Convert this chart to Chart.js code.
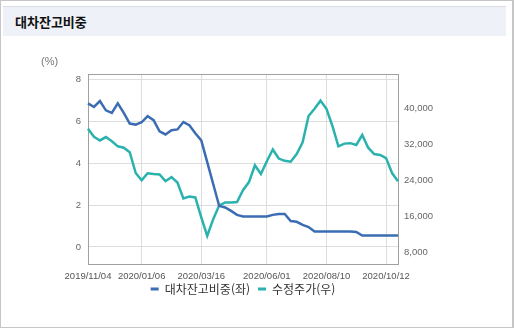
<!DOCTYPE html>
<html lang="ko">
<head>
<meta charset="utf-8">
<title>대차잔고비중</title>
<script src="https://cdn.jsdelivr.net/npm/chart.js@4.4.1/dist/chart.umd.min.js"></script>
<style>
  html, body { margin: 0; padding: 0; background: #fff; }
  body { position: relative; width: 514px; height: 328px; overflow: hidden; }
  .frame { position: absolute; left: 0; top: 0; width: 514px; height: 328px; box-sizing: border-box; border: 1px solid #c6c6c6; border-right-width: 2px; }
  .header { position: absolute; left: 3px; top: 6px; width: 503px; height: 30px; background: #eef1f7; border-top: 1px solid #dadde3; box-sizing: border-box; }
  .header h2 { margin: 0; padding-left: 12px; font: bold 13px "Noto Sans CJK KR", sans-serif; color: #111; line-height: 29px; }
  #chart { position: absolute; left: 0; top: 40px; }
</style>
</head>
<body>
<div class="frame"></div>
<div class="header"><h2>대차잔고비중</h2></div>
<canvas id="chart" width="514" height="288"></canvas>
<script>
// weekly observations
const dates = [
  "2019/11/04", "2019/11/11", "2019/11/18", "2019/11/25", "2019/12/02", "2019/12/09",
  "2019/12/16", "2019/12/23", "2019/12/30", "2020/01/06", "2020/01/13", "2020/01/20",
  "2020/01/27", "2020/02/03", "2020/02/10", "2020/02/17", "2020/02/24", "2020/03/02",
  "2020/03/09", "2020/03/16", "2020/03/23", "2020/03/30", "2020/04/06", "2020/04/13",
  "2020/04/20", "2020/04/27", "2020/05/04", "2020/05/11", "2020/05/18", "2020/05/25",
  "2020/06/01", "2020/06/08", "2020/06/15", "2020/06/22", "2020/06/29", "2020/07/06",
  "2020/07/13", "2020/07/20", "2020/07/27", "2020/08/03", "2020/08/10", "2020/08/17",
  "2020/08/24", "2020/08/31", "2020/09/07", "2020/09/14", "2020/09/21", "2020/09/28",
  "2020/09/29", "2020/10/05", "2020/10/12", "2020/10/19", "2020/10/26"
];
const shownDates = ["2019/11/04", "2020/01/06", "2020/03/16", "2020/06/01", "2020/08/10", "2020/10/12"];

// 대차잔고비중 (%)
const loanRatio = [
  6.84, 6.67, 6.95, 6.51, 6.39, 6.84, 6.39, 5.88, 5.83, 5.94,
  6.23, 6.04, 5.51, 5.36, 5.56, 5.60, 5.95, 5.80, 5.42, 5.08,
  4.04, 3.00, 1.96, 1.88, 1.72, 1.53, 1.45, 1.45, 1.45, 1.45,
  1.45, 1.53, 1.57, 1.57, 1.24, 1.20, 1.05, 0.95, 0.74, 0.74,
  0.74, 0.74, 0.74, 0.74, 0.74, 0.72, 0.55, 0.55, 0.55, 0.55,
  0.55, 0.55, 0.55
];

// 수정주가 (원)
const adjPrice = [
  35400, 33600, 32800, 33550, 32600, 31500, 31200, 30200, 25600, 24000,
  25550, 25400, 25300, 23800, 24700, 23500, 20000, 20400, 20200, 15800,
  11700, 15400, 18400, 19100, 19100, 19200, 21800, 23600, 27300, 25400,
  28200, 30800, 28800, 28300, 28100, 29800, 32400, 38200, 39800, 41600,
  39800, 36000, 31500, 32100, 32200, 31800, 34000, 31200, 29800, 29600,
  28900, 25600, 23800
];

const leftTicks = [0, 2, 4, 6, 8];
const rightTicks = [8000, 16000, 24000, 32000, 40000];

const BLUE = "#3c6db3";
const TEAL = "#29b2ae";
const GRID = "#dedede";
const AXIS = "#a0a0a0";

Chart.defaults.font.family = '"Liberation Sans", Arial, sans-serif';
Chart.defaults.color = "#666";

// box round the plot area (the top edge has no axis of its own)
const plotFrame = {
  id: "plotFrame",
  beforeDatasetsDraw(chart) {
    const { ctx, chartArea: a } = chart;
    ctx.save();
    ctx.strokeStyle = AXIS;
    ctx.lineWidth = 1;
    ctx.strokeRect(Math.round(a.left) + 0.5, Math.round(a.top) + 0.5,
      Math.round(a.right - a.left), Math.round(a.bottom - a.top));
    ctx.restore();
  }
};

// pull the legend up so it sits just under the date labels
const legendLift = {
  id: "legendLift",
  afterLayout(chart) {
    const lg = chart.legend;
    if (!lg) return;
    lg.top -= 9;
    lg.bottom -= 9;
  }
};

new Chart(document.getElementById("chart"), {
  type: "line",
  data: {
    labels: dates,
    datasets: [
      {
        label: "대차잔고비중(좌)",
        data: loanRatio,
        yAxisID: "y",
        borderColor: BLUE,
        backgroundColor: BLUE,
        borderWidth: 2.5,
        pointRadius: 0,
        tension: 0
      },
      {
        label: "수정주가(우)",
        data: adjPrice,
        yAxisID: "y1",
        borderColor: TEAL,
        backgroundColor: TEAL,
        borderWidth: 2.5,
        pointRadius: 0,
        tension: 0
      }
    ]
  },
  options: {
    responsive: false,
    animation: false,
    events: [],
    layout: { padding: { left: 41, right: 69, top: 4, bottom: 14 } },
    plugins: {
      title: {
        display: true,
        text: "(%)",
        align: "start",
        color: "#777",
        font: { size: 11, weight: "normal" },
        padding: { top: 11, bottom: 5.8 }
      },
      legend: {
        position: "bottom",
        labels: {
          boxWidth: 8,
          boxHeight: 3,
          padding: 8,
          color: "#333",
          font: { size: 12, family: '"Noto Sans CJK KR", sans-serif' },
          generateLabels: (chart) => chart.data.datasets.map((ds, i) => ({
            text: ds.label,
            fillStyle: ds.borderColor,
            strokeStyle: ds.borderColor,
            lineWidth: 0,
            hidden: false,
            datasetIndex: i,
            fontColor: "#333"
          }))
        }
      },
      tooltip: { enabled: false }
    },
    scales: {
      x: {
        type: "category",
        grid: {
          drawTicks: false,
          color: (c) => (shownDates.includes(dates[c.index]) ? GRID : "rgba(0,0,0,0)")
        },
        border: { color: AXIS },
        ticks: {
          autoSkip: false,
          maxRotation: 0,
          padding: 7,
          color: "#555",
          font: { size: 9.5 },
          callback: (value, i) => (shownDates.includes(dates[i]) ? dates[i] : "")
        },
        afterFit: (scale) => { scale.height = 20; }
      },
      y: {
        position: "left",
        min: -0.81,
        max: 8.24,
        grid: { color: GRID, drawTicks: false },
        border: { color: AXIS },
        ticks: { padding: 7, color: "#666", font: { size: 9.5 } },
        afterBuildTicks: (scale) => { scale.ticks = leftTicks.map((v) => ({ value: v })); },
        afterFit: (scale) => { scale.width = 47; }
      },
      y1: {
        position: "right",
        min: 5490,
        max: 47490,
        grid: { drawOnChartArea: false, drawTicks: false },
        border: { color: AXIS },
        ticks: {
          padding: 6,
          color: "#666",
          font: { size: 9.5 },
          callback: (v) => v.toLocaleString("en-US")
        },
        afterBuildTicks: (scale) => { scale.ticks = rightTicks.map((v) => ({ value: v })); },
        afterFit: (scale) => { scale.width = 47; }
      }
    }
  },
  plugins: [plotFrame, legendLift]
});
</script>
</body>
</html>
